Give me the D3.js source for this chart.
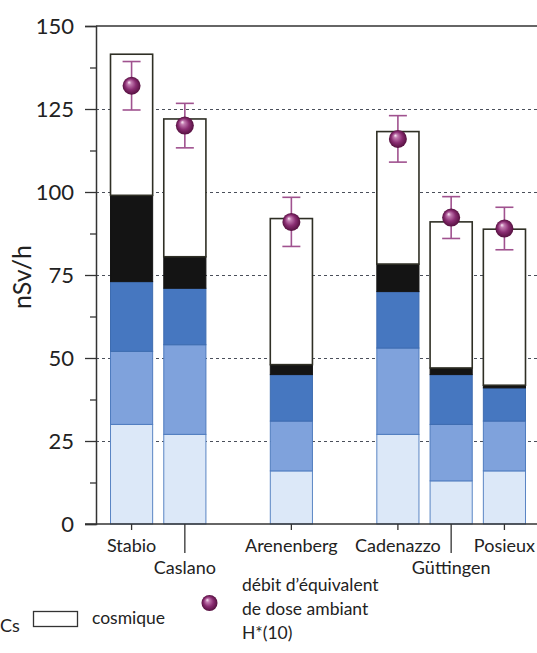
<!DOCTYPE html>
<html>
<head>
<meta charset="utf-8">
<script src="https://cdn.jsdelivr.net/npm/d3@7"></script>
<style>
  html, body { margin: 0; padding: 0; background: #fff; }
  svg { display: block; font-family: Lato, "Open Sans", sans-serif; }
</style>
</head>
<body>
<div id="chart"></div>
<script>
// Stations (bottom axis)
const stations = ['Stabio', 'Caslano', 'Arenenberg', 'Cadenazzo', 'Güttingen', 'Posieux'];

// Stacked components, nSv/h (bottom to top)
const k40      = [30, 27, 16, 27, 13, 16];
const serieU   = [22, 27, 15, 26, 17, 15];
const serieTh  = [21, 17, 14, 17, 15, 10];
const cs137    = [26, 9.5, 3, 8.3, 2, 0.8];
const cosmique = [42.5, 41.5, 44, 39.9, 44, 47];

// Measured ambient dose equivalent rate H*(10) and its uncertainty
const doseRate = [132, 120, 91, 116, 92.3, 89];
const doseErr  = [7.3, 6.7, 7.4, 7, 6.3, 6.4];

const yTicks = [0, 25, 50, 75, 100, 125, 150];

const W = 537, H = 653;
const svg = d3.select('#chart').append('svg')
    .attr('width', W).attr('height', H);

// Build rows for d3.stack
const keys = ['k40', 'serieU', 'serieTh', 'cs137', 'cosmique'];
const rows = stations.map((s, i) => ({
    station: s, k40: k40[i], serieU: serieU[i], serieTh: serieTh[i],
    cs137: cs137[i], cosmique: cosmique[i]
}));
const stacked = d3.stack().keys(keys)(rows);

const fills = { k40: '#dce8f8', serieU: '#7fa2dc', serieTh: '#4677c0', cs137: '#141414', cosmique: '#ffffff' };
const strokes = { k40: '#5a85c4', serieU: '#4f7cbf', serieTh: '#3e6cb0', cs137: '#141414', cosmique: '#2f2f25' };

// Slots with two empty gaps, as in the original layout
const slots = ['Stabio', 'Caslano', '_g1', 'Arenenberg', '_g2', 'Cadenazzo', 'Güttingen', 'Posieux'];
const x = d3.scaleBand().domain(slots).range([96, 540]).paddingInner(0.19).paddingOuter(0.263);
const y = d3.scaleLinear().domain([0, 150]).range([524, 26]);
const x0 = 96;

// Dashed gridlines
svg.append('g')
    .selectAll('line')
    .data([25, 50, 75, 100, 125])
    .enter().append('line')
    .attr('x1', x0).attr('x2', W)
    .attr('y1', d => y(d) + 0.5).attr('y2', d => y(d) + 0.5)
    .attr('stroke', '#4a4f5a')
    .attr('stroke-width', 1.2)
    .attr('stroke-dasharray', '3,3');

// Top frame line
svg.append('line')
    .attr('x1', x0).attr('x2', W)
    .attr('y1', y(150)).attr('y2', y(150))
    .attr('stroke', '#333').attr('stroke-width', 1.5);

// Stacked bars
svg.append('g')
    .selectAll('g')
    .data(stacked)
    .enter().append('g')
    .each(function(layer) {
        d3.select(this).selectAll('rect')
            .data(layer)
            .enter().append('rect')
            .attr('x', d => x(d.data.station) + 0.5)
            .attr('width', x.bandwidth() - 1)
            .attr('y', d => y(d[1]))
            .attr('height', d => y(d[0]) - y(d[1]))
            .attr('fill', fills[layer.key])
            .attr('stroke', strokes[layer.key])
            .attr('stroke-width', layer.key === 'cosmique' ? 1.6 : 1);
    });

// Y axis (major + minor ticks)
const yAxis = svg.append('g')
    .attr('transform', `translate(${x0},0)`)
    .call(d3.axisLeft(y).tickValues(yTicks).tickSize(11).tickPadding(11));
yAxis.select('.domain').attr('stroke', '#333').attr('stroke-width', 1.5);
yAxis.selectAll('.tick line').attr('stroke', '#333').attr('stroke-width', 1.3);
yAxis.selectAll('.tick text')
    .attr('font-size', 22).attr('fill', '#222')
    .attr('font-family', 'Lato, sans-serif');

svg.append('g')
    .attr('transform', `translate(${x0},0)`)
    .call(d3.axisLeft(y).tickValues(d3.range(12.5, 150, 25)).tickSize(6).tickFormat(''))
    .call(g => g.select('.domain').remove())
    .selectAll('.tick line').attr('stroke', '#333').attr('stroke-width', 1.3);

// Y title
svg.append('text')
    .attr('transform', 'translate(31,277) rotate(-90)')
    .attr('text-anchor', 'middle')
    .attr('font-size', 25)
    .attr('fill', '#222')
    .text('nSv/h');

// Bottom axis line
svg.append('line')
    .attr('x1', 85).attr('x2', W)
    .attr('y1', y(0)).attr('y2', y(0))
    .attr('stroke', '#333').attr('stroke-width', 1.5);

// Category ticks and labels (two stations are staggered)
const staggered = new Set(['Caslano', 'Güttingen']);
const cat = svg.append('g')
    .selectAll('g')
    .data(stations)
    .enter().append('g')
    .attr('transform', d => `translate(${x(d) + x.bandwidth() / 2},${y(0)})`);
cat.append('line')
    .attr('y2', d => staggered.has(d) ? 29 : 6)
    .attr('stroke', '#333').attr('stroke-width', 1.3);
cat.append('text')
    .attr('y', d => staggered.has(d) ? 50 : 28)
    .attr('text-anchor', 'middle')
    .attr('font-size', 18)
    .attr('fill', '#222')
    .text(d => d);

// Sphere gradient
const defs = svg.append('defs');
const grad = defs.append('radialGradient')
    .attr('id', 'sphere')
    .attr('cx', '50%').attr('cy', '50%').attr('r', '50%')
    .attr('fx', '35%').attr('fy', '30%');
grad.append('stop').attr('offset', '0%').attr('stop-color', '#fbeef7');
grad.append('stop').attr('offset', '22%').attr('stop-color', '#c27bb0');
grad.append('stop').attr('offset', '60%').attr('stop-color', '#8a2d72');
grad.append('stop').attr('offset', '100%').attr('stop-color', '#55103f');

// Error bars and dose rate points
const pts = svg.append('g')
    .selectAll('g')
    .data(stations)
    .enter().append('g')
    .attr('transform', d => `translate(${x(d) + x.bandwidth() / 2},0)`);
pts.append('line')
    .attr('y1', (d, i) => y(doseRate[i] + doseErr[i]))
    .attr('y2', (d, i) => y(doseRate[i] - doseErr[i]))
    .attr('stroke', '#a0528f').attr('stroke-width', 1.6);
[1, -1].forEach(sign => {
    pts.append('line')
        .attr('x1', -9).attr('x2', 9)
        .attr('y1', (d, i) => y(doseRate[i] + sign * doseErr[i]))
        .attr('y2', (d, i) => y(doseRate[i] + sign * doseErr[i]))
        .attr('stroke', '#a0528f').attr('stroke-width', 1.6);
});
pts.append('circle')
    .attr('cy', (d, i) => y(doseRate[i]))
    .attr('r', 9)
    .attr('fill', 'url(#sphere)');

// Legend (only the visible part of the original)
const lg = svg.append('g').attr('font-size', 17.5).attr('fill', '#222');
lg.append('text').attr('x', 0).attr('y', 632).attr('font-size', 18).text('Cs');
lg.append('rect')
    .attr('x', 33.5).attr('y', 611.5).attr('width', 44).attr('height', 15)
    .attr('fill', '#fff').attr('stroke', '#333').attr('stroke-width', 1.3);
lg.append('text').attr('x', 92).attr('y', 624).text('cosmique');
lg.append('circle').attr('cx', 209.5).attr('cy', 603).attr('r', 8).attr('fill', 'url(#sphere)');
['débit d’équivalent', 'de dose ambiant', 'H*(10)'].forEach((t, i) => {
    lg.append('text').attr('x', 242).attr('y', 591 + i * 24).text(t);
});
</script>
</body>
</html>
